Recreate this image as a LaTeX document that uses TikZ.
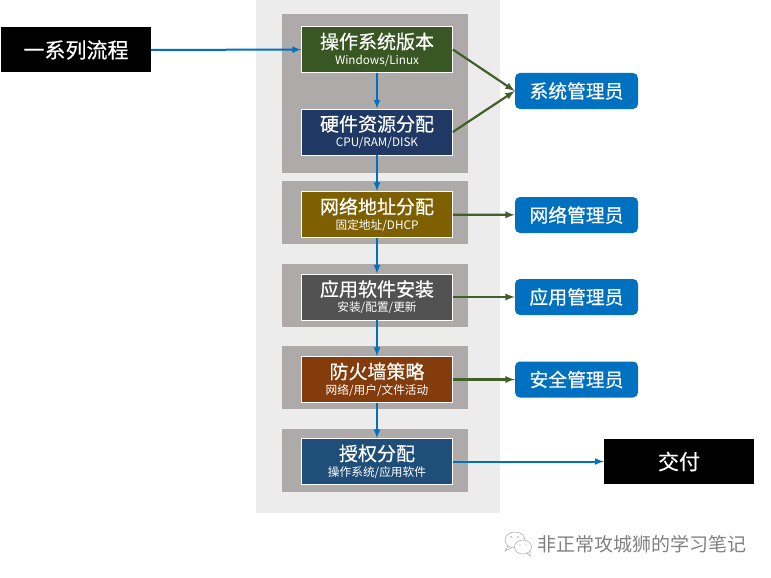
\documentclass[tikz,border=0pt]{standalone}
\usepackage{fontspec}
\setmainfont{Noto Sans CJK SC}
\newfontfamily\heavyfont[FakeBold=0.4]{Noto Sans CJK SC}
\usepackage{tikz}
\usetikzlibrary{arrows,positioning,calc}

\definecolor{panelgray}{HTML}{ECECEC}
\definecolor{groupgray}{HTML}{AEAAAA}
\definecolor{osgreen}{HTML}{385723}
\definecolor{hwblue}{HTML}{1F3864}
\definecolor{netgold}{HTML}{7F6000}
\definecolor{appgray}{HTML}{525252}
\definecolor{fwbrown}{HTML}{843C0C}
\definecolor{authblue}{HTML}{1F4E79}
\definecolor{roleblue}{HTML}{0070C0}
\definecolor{linkgreen}{HTML}{43602B}

\tikzset{
  stepbox/.style={draw=white, line width=.7pt, text=white, minimum width=151, minimum height=46, inner sep=0pt, align=center},
  rolebox/.style={fill=roleblue, rounded corners=5pt, text=white, minimum width=123, minimum height=36, inner sep=0pt, font=\heavyfont\fontsize{18.8}{20}\selectfont},
  blackbox/.style={fill=black, text=white, minimum width=150, minimum height=45, inner sep=0pt, font=\heavyfont\fontsize{21}{23}\selectfont},
  flow/.style={-latex, roleblue, line width=2pt},
  duty/.style={-latex, linkgreen, line width=2.2pt}
}
\newcommand{\steptext}[2]{{\heavyfont\fontsize{19}{20}\selectfont #1}\\[3.5pt]{\fontsize{11.7}{12}\selectfont #2}}

\begin{document}
\begin{tikzpicture}[x=1pt,y=-1pt]

\useasboundingbox (0,0) rectangle (771,578);

\fill[panelgray] (256,0) rectangle (500,513);
\fill[groupgray] (282,14) rectangle (468,173);
\fill[groupgray] (282,181) rectangle (468,244);
\fill[groupgray] (282,264) rectangle (468,327);
\fill[groupgray] (282,346) rectangle (468,409);
\fill[groupgray] (282,429) rectangle (468,492);

\node[stepbox, fill=osgreen] (os) at (377,49.5) {\steptext{操作系统版本}{Windows/Linux}};
\node[stepbox, fill=hwblue] (hw) at (377,132) {\steptext{硬件资源分配}{CPU/RAM/DISK}};
\node[stepbox, fill=netgold] (net) at (377,214.5) {\steptext{网络地址分配}{固定地址/DHCP}};
\node[stepbox, fill=appgray] (app) at (377,297) {\steptext{应用软件安装}{安装/配置/更新}};
\node[stepbox, fill=fwbrown] (fw) at (377,379.5) {\steptext{防火墙策略}{网络/用户/文件活动}};
\node[stepbox, fill=authblue] (auth) at (377,461.5) {\steptext{授权分配}{操作系统/应用软件}};

\node[rolebox] (sysadmin) at (576.5,91) {系统管理员};
\node[rolebox] (netadmin) at (576.5,215) {网络管理员};
\node[rolebox] (appadmin) at (576.5,297) {应用管理员};
\node[rolebox] (secadmin) at (576.5,379.5) {安全管理员};

\node[blackbox] (series) at (76,50) {一系列流程};
\node[blackbox] (deliver) at (679,461.5) {交付};

\draw[flow] (series) -- (os);
\draw[flow] (os) -- (hw);
\draw[flow] (hw) -- (net);
\draw[flow] (net) -- (app);
\draw[flow] (app) -- (fw);
\draw[flow] (fw) -- (auth);
\draw[flow] (auth) -- (deliver);

\draw[duty] (os.east) -- (sysadmin.west);
\draw[duty] (hw.east) -- (sysadmin.west);
\draw[duty] (net) -- (netadmin);
\draw[duty] (app) -- (appadmin);
\draw[duty] (fw) -- (secadmin);

% watermark
\draw[gray!70, line width=.5pt, fill=white] (515,540) ellipse[x radius=10, y radius=8];
\draw[gray!70, line width=.5pt] (508,546) -- (505,551) -- (511,548);
\draw[gray!70, line width=.5pt, fill=white] (523,547) ellipse[x radius=8.5, y radius=7];
\draw[gray!70, line width=.5pt] (527,553) -- (530,556) -- (530,551);
\fill[gray!70] (511,537) circle (.8) (518,537) circle (.8) (520,545) circle (.7) (526,545) circle (.7);
\node[text=black!50, font=\fontsize{19}{21}\selectfont, inner sep=0pt] (mark) at (642,544) {非正常攻城狮的学习笔记};

\end{tikzpicture}
\end{document}
